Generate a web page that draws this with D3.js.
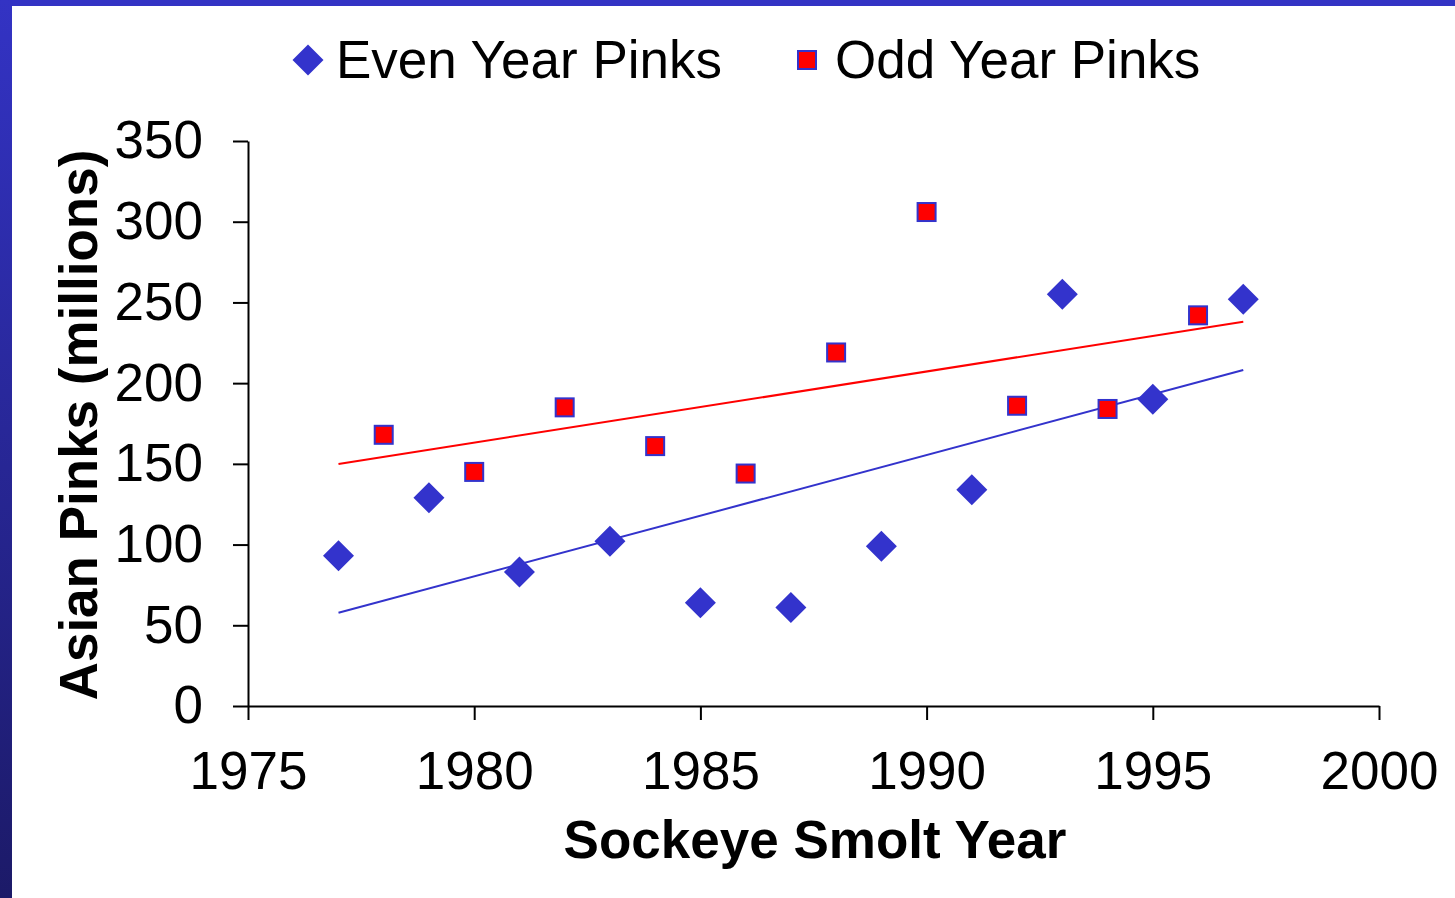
<!DOCTYPE html>
<html>
<head>
<meta charset="utf-8">
<script src="https://cdn.jsdelivr.net/npm/d3@7"></script>
<style>
  body { margin: 0; background: #fff; }
  svg text { font-family: "Liberation Sans", Arial, sans-serif; }
</style>
</head>
<body>
<div id="chart"></div>
<script>
var svgWidth = 1455;
var svgHeight = 898;

// data
var evenYears = [1977, 1979, 1981, 1983, 1985, 1987, 1989, 1991, 1993, 1995, 1997];
var evenPinks = [93, 129, 83, 102, 64, 61, 99, 134, 255, 190, 252];
var oddYears = [1978, 1980, 1982, 1984, 1986, 1988, 1990, 1992, 1994, 1996];
var oddPinks = [168, 145, 185, 161, 144, 219, 306, 186, 184, 242];
var xTicks = [1975, 1980, 1985, 1990, 1995, 2000];
var yTicks = [0, 50, 100, 150, 200, 250, 300, 350];
var trendRange = [1977, 1997];

var margin = { top: 141, right: 76, bottom: 192, left: 248 };
var width = svgWidth - margin.left - margin.right;
var height = svgHeight - margin.top - margin.bottom;

var blue = "#3333cc";
var red = "#ff0000";
var fontSize = "53px";

var svg = d3.select("#chart")
  .append("svg")
  .attr("width", svgWidth)
  .attr("height", svgHeight);

// slide frame (blue gradient on top and left)
var defs = svg.append("defs");
var grad = defs.append("linearGradient")
  .attr("id", "frameGrad")
  .attr("x1", 0).attr("y1", 0).attr("x2", 0).attr("y2", 1);
grad.append("stop").attr("offset", "0%").attr("stop-color", "#3333c4");
grad.append("stop").attr("offset", "100%").attr("stop-color", "#1c1a68");

svg.append("rect").attr("x", 0).attr("y", 0).attr("width", svgWidth).attr("height", 6).attr("fill", "#3333c4");
svg.append("rect").attr("x", 0).attr("y", 0).attr("width", 12).attr("height", svgHeight).attr("fill", "url(#frameGrad)");

var chartGroup = svg.append("g")
  .attr("transform", `translate(${margin.left}, ${margin.top})`);

var xScale = d3.scaleLinear().domain([1975, 2000]).range([0, width]);
var yScale = d3.scaleLinear().domain([0, 350]).range([height, 0]);

var bottomAxis = d3.axisBottom(xScale)
  .tickValues(xTicks)
  .tickFormat(d3.format("d"))
  .tickSize(14)
  .tickSizeOuter(0)
  .tickPadding(31);
var leftAxis = d3.axisLeft(yScale)
  .tickValues(yTicks)
  .tickSize(15)
  .tickSizeOuter(0)
  .tickPadding(30);

function styleAxis(g) {
  g.selectAll("path, line").attr("stroke", "#000").attr("stroke-width", 2);
  g.selectAll("text")
    .attr("fill", "#000")
    .style("font-size", fontSize)
    .style("font-family", "'Liberation Sans', Arial, sans-serif");
}

chartGroup.append("g")
  .attr("transform", `translate(0, ${height})`)
  .call(bottomAxis)
  .call(styleAxis);

chartGroup.append("g")
  .call(leftAxis)
  .call(styleAxis);

// linear trend lines (least squares)
function fit(xs, ys) {
  var mx = d3.mean(xs), my = d3.mean(ys);
  var num = d3.sum(xs, (x, i) => (x - mx) * (ys[i] - my));
  var den = d3.sum(xs, x => (x - mx) * (x - mx));
  var b = num / den;
  return x => my + b * (x - mx);
}

var line = d3.line().x(d => xScale(d[0])).y(d => yScale(d[1]));

var fEven = fit(evenYears, evenPinks);
var fOdd = fit(oddYears, oddPinks);

chartGroup.append("path")
  .attr("d", line(trendRange.map(x => [x, fOdd(x)])))
  .attr("fill", "none")
  .attr("stroke", red)
  .attr("stroke-width", 2);

chartGroup.append("path")
  .attr("d", line(trendRange.map(x => [x, fEven(x)])))
  .attr("fill", "none")
  .attr("stroke", blue)
  .attr("stroke-width", 2);

// markers
var diamond = "M0,-15.5L15.5,0L0,15.5L-15.5,0Z";

chartGroup.selectAll(".even")
  .data(evenYears)
  .enter()
  .append("path")
  .attr("class", "even")
  .attr("d", diamond)
  .attr("transform", (d, i) => `translate(${xScale(d)}, ${yScale(evenPinks[i])})`)
  .attr("fill", blue);

chartGroup.selectAll(".odd")
  .data(oddYears)
  .enter()
  .append("rect")
  .attr("class", "odd")
  .attr("x", d => xScale(d) - 9)
  .attr("y", (d, i) => yScale(oddPinks[i]) - 9)
  .attr("width", 18)
  .attr("height", 18)
  .attr("fill", red)
  .attr("stroke", blue)
  .attr("stroke-width", 2);

// axis titles
svg.append("text")
  .attr("x", 815)
  .attr("y", 858)
  .attr("text-anchor", "middle")
  .style("font-size", fontSize)
  .style("font-weight", "bold")
  .text("Sockeye Smolt Year");

svg.append("text")
  .attr("transform", "translate(97, 425) rotate(-90)")
  .attr("text-anchor", "middle")
  .style("font-size", fontSize)
  .style("font-weight", "bold")
  .text("Asian Pinks (millions)");

// legend
var legend = svg.append("g");
legend.append("path")
  .attr("d", diamond)
  .attr("transform", "translate(308, 60)")
  .attr("fill", blue);
legend.append("text")
  .attr("x", 336)
  .attr("y", 78)
  .style("font-size", fontSize)
  .text("Even Year Pinks");
legend.append("rect")
  .attr("x", 798).attr("y", 51)
  .attr("width", 18).attr("height", 18)
  .attr("fill", red)
  .attr("stroke", blue)
  .attr("stroke-width", 2);
legend.append("text")
  .attr("x", 835)
  .attr("y", 78)
  .style("font-size", fontSize)
  .text("Odd Year Pinks");
</script>
</body>
</html>
